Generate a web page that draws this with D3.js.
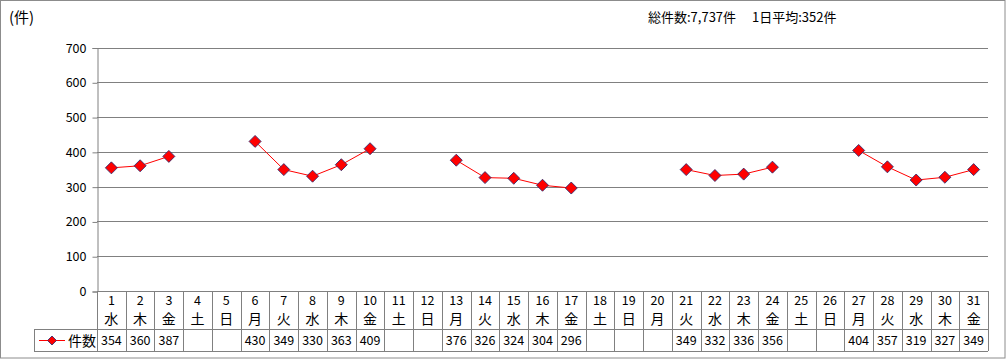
<!DOCTYPE html>
<html>
<head>
<meta charset="utf-8">
<script src="https://cdn.jsdelivr.net/npm/d3@7"></script>
<style>
  body { margin: 0; background: #fff; }
  svg text { font-family: "Noto Sans CJK JP", "Noto Sans", sans-serif; fill: #000; }
</style>
</head>
<body>
<div id="chart"></div>
<script>
// 日付・曜日・件数
const days = d3.range(1, 32).map(String);
const weekdays = ['水','木','金','土','日','月','火','水','木','金','土','日','月','火','水','木','金','土','日','月','火','水','木','金','土','日','月','火','水','木','金'];
const counts = [354, 360, 387, null, null, 430, 349, 330, 363, 409, null, null, 376, 326, 324, 304, 296, null, null, null, 349, 332, 336, 356, null, null, 404, 357, 319, 327, 349];
const yTicks = [0, 100, 200, 300, 400, 500, 600, 700];
const seriesName = '件数';
const unitLabel = '(件)';
const summary = '総件数:7,737件　 1日平均:352件';

const W = 1006, H = 359;
const plot = { left: 97, right: 988, top: 47.5, bottom: 291 };
const tableRows = { dataTop: 329, bottom: 351, legendLeft: 34 };
const gridColor = '#808080';

const svg = d3.select('#chart').append('svg')
    .attr('width', W).attr('height', H);

// 外枠
svg.append('rect')
    .attr('x', 0.5).attr('y', 0.5)
    .attr('width', W - 1.5).attr('height', H - 1.5)
    .attr('fill', '#fff').attr('stroke', '#8c8c8c').attr('stroke-width', 1);

const x = d3.scaleBand().domain(days).range([plot.left, plot.right]);
const y = d3.scaleLinear().domain([0, 700]).range([plot.bottom, plot.top]);

// グリッド線
svg.append('g').selectAll('line')
    .data(yTicks.filter(d => d > 0))
    .join('line')
    .attr('x1', plot.left).attr('x2', plot.right)
    .attr('y1', d => Math.round(y(d)) + 0.5).attr('y2', d => Math.round(y(d)) + 0.5)
    .attr('stroke', gridColor);

// Y軸
const yAxis = svg.append('g')
    .attr('transform', `translate(${plot.left + 0.5},0.5)`)
    .call(d3.axisLeft(y).tickValues(yTicks).tickSize(5).tickPadding(6).tickFormat(d3.format('d')));
yAxis.select('.domain').attr('stroke', gridColor);
yAxis.selectAll('.tick line').attr('stroke', gridColor);
yAxis.selectAll('.tick text')
    .style('font-size', '12.5px')
    .style('font-family', '"Noto Sans CJK JP", sans-serif');

// 表（データテーブル）
const table = svg.append('g').attr('stroke', gridColor).attr('fill', 'none');
table.append('line')
    .attr('x1', plot.left).attr('x2', plot.right)
    .attr('y1', plot.bottom + 0.5).attr('y2', plot.bottom + 0.5);
table.append('line')
    .attr('x1', tableRows.legendLeft).attr('x2', plot.right)
    .attr('y1', tableRows.dataTop + 0.5).attr('y2', tableRows.dataTop + 0.5);
table.append('line')
    .attr('x1', tableRows.legendLeft).attr('x2', plot.right)
    .attr('y1', tableRows.bottom + 0.5).attr('y2', tableRows.bottom + 0.5);
table.append('line')
    .attr('x1', tableRows.legendLeft + 0.5).attr('x2', tableRows.legendLeft + 0.5)
    .attr('y1', tableRows.dataTop).attr('y2', tableRows.bottom);
table.selectAll('.vline')
    .data(days.concat(['end']))
    .join('line')
    .attr('x1', d => Math.round(d === 'end' ? plot.right : x(d)) + 0.5)
    .attr('x2', d => Math.round(d === 'end' ? plot.right : x(d)) + 0.5)
    .attr('y1', plot.bottom).attr('y2', tableRows.bottom);

const cellText = svg.append('g')
    .attr('text-anchor', 'middle')
    .style('font-size', '12.5px');
cellText.selectAll('.day')
    .data(days).join('text')
    .attr('x', d => x(d) + x.bandwidth() / 2)
    .attr('y', 305)
    .text(d => d);
cellText.selectAll('.wd')
    .data(weekdays).join('text')
    .attr('x', (d, i) => x(days[i]) + x.bandwidth() / 2)
    .attr('y', 324)
    .style('font-size', '14px')
    .text(d => d);
cellText.selectAll('.val')
    .data(counts).join('text')
    .attr('x', (d, i) => x(days[i]) + x.bandwidth() / 2)
    .attr('y', 345)
    .text(d => d == null ? '' : d);

// 凡例
const leg = svg.append('g');
leg.append('line')
    .attr('x1', 39).attr('x2', 65).attr('y1', 340.5).attr('y2', 340.5)
    .attr('stroke', '#ff0000');
leg.append('path')
    .attr('d', d3.symbol().type(d3.symbolSquare).size(40)())
    .attr('transform', 'translate(52,340.5) rotate(45)')
    .attr('fill', '#ff0000').attr('stroke', '#2a2a6e').attr('stroke-width', 0.8);
leg.append('text')
    .attr('x', 68).attr('y', 345.5)
    .style('font-size', '14px')
    .text(seriesName);

// 折れ線
const line = d3.line()
    .defined(d => d != null)
    .x((d, i) => x(days[i]) + x.bandwidth() / 2)
    .y(d => y(d));
svg.append('path')
    .datum(counts)
    .attr('d', line)
    .attr('fill', 'none')
    .attr('stroke', '#ff0000')
    .attr('stroke-width', 1);

svg.append('g').selectAll('path')
    .data(counts.map((v, i) => ({ v, i })).filter(d => d.v != null))
    .join('path')
    .attr('d', d3.symbol().type(d3.symbolSquare).size(72)())
    .attr('transform', d => `translate(${x(days[d.i]) + x.bandwidth() / 2},${y(d.v)}) rotate(45)`)
    .attr('fill', '#ff0000')
    .attr('stroke', '#2a2a6e')
    .attr('stroke-width', 0.8);

// タイトル類
svg.append('text')
    .attr('x', 9).attr('y', 23)
    .style('font-size', '15px')
    .text(unitLabel);
svg.append('text')
    .attr('x', 648).attr('y', 22)
    .style('font-size', '13px')
    .text(summary);
</script>
</body>
</html>
